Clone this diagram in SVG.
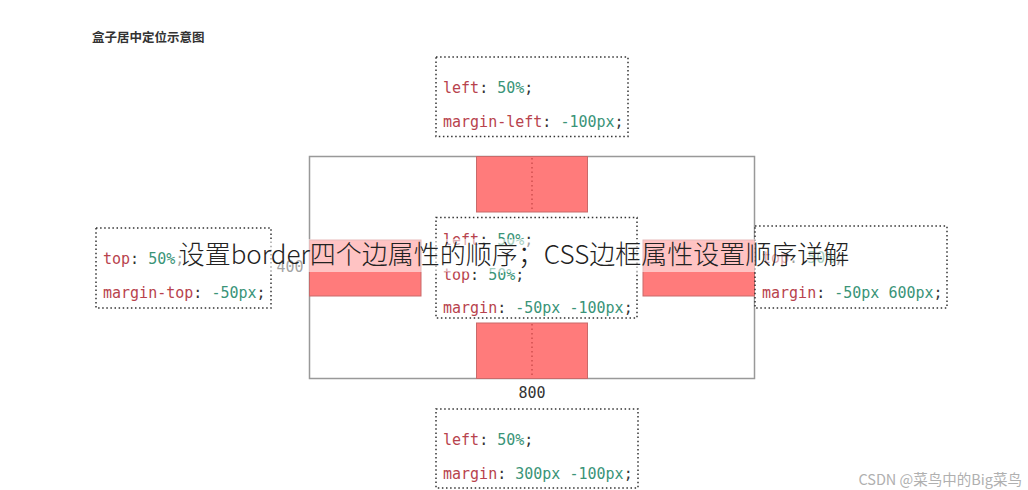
<svg xmlns="http://www.w3.org/2000/svg" width="1028" height="490" viewBox="0 0 1028 490">
<style>
.code{font-family:"DejaVu Sans Mono","Liberation Mono",monospace;font-size:15px;fill:#333}
.p{fill:#b8434d}
.v{fill:#3a9478}
.dot{fill:#fff;stroke:#333;stroke-width:1.5;stroke-dasharray:1.5 2.6}
.red{fill:#ff7b7b;stroke:#c96a6a;stroke-width:1}
.guide{stroke:#cf4f4f;stroke-width:1.5;stroke-dasharray:1.5 3}
</style>
<rect width="1028" height="490" fill="#fff"/>
<g id="title"><text x="92" y="42" font-family="'Noto Sans CJK SC',sans-serif" font-size="12.5" font-weight="bold" fill="#333">盒子居中定位示意图</text></g>
<g id="container"><rect x="309.5" y="156.5" width="445" height="222" fill="#fff" stroke="#999" stroke-width="1.5"/></g>
<g id="box-top"><rect class="red" x="476.5" y="156.5" width="111" height="55.5"/></g>
<g id="box-bottom"><rect class="red" x="476.5" y="323" width="111" height="55.5"/></g>
<g id="box-left"><rect class="red" x="309.5" y="240" width="111.5" height="56"/></g>
<g id="box-right"><rect class="red" x="643" y="240" width="111.5" height="56"/></g>
<g id="connectors">
<line class="guide" x1="532" y1="158" x2="532" y2="211"/>
<line class="guide" x1="532" y1="324" x2="532" y2="377"/>
</g>
<g id="code-top">
<rect class="dot" x="436" y="57" width="192" height="79.5"/>
<text class="code" x="443" y="93"><tspan class="p">left</tspan>: <tspan class="v">50%</tspan>;</text>
<text class="code" x="443" y="127"><tspan class="p">margin-left</tspan>: <tspan class="v">-100px</tspan>;</text>
</g>
<g id="code-center">
<rect class="dot" x="436" y="217.5" width="201" height="100.5"/>
<text class="code" x="443" y="245"><tspan class="p">left</tspan>: <tspan class="v">50%</tspan>;</text>
<text class="code" x="443" y="280"><tspan class="p">top</tspan>: <tspan class="v">50%</tspan>;</text>
<text class="code" x="443" y="313"><tspan class="p">margin</tspan>: <tspan class="v">-50px -100px</tspan>;</text>
</g>
<g id="code-left">
<rect class="dot" x="96" y="228" width="175" height="80"/>
<text class="code" x="103" y="264"><tspan class="p">top</tspan>: <tspan class="v">50%</tspan>;</text>
<text class="code" x="103" y="298"><tspan class="p">margin-top</tspan>: <tspan class="v">-50px</tspan>;</text>
</g>
<g id="code-right">
<rect class="dot" x="755" y="226" width="192" height="82"/>
<text class="code" x="762" y="263"><tspan class="p">top</tspan>: <tspan class="v">50%</tspan>;</text>
<text class="code" x="762" y="298"><tspan class="p">margin</tspan>: <tspan class="v">-50px 600px</tspan>;</text>
</g>
<g id="code-bottom">
<rect class="dot" x="436" y="409" width="202" height="79"/>
<text class="code" x="443" y="445"><tspan class="p">left</tspan>: <tspan class="v">50%</tspan>;</text>
<text class="code" x="443" y="479"><tspan class="p">margin</tspan>: <tspan class="v">300px -100px</tspan>;</text>
</g>
<g id="labels">
<text class="code" x="532" y="398" text-anchor="middle" fill="#111">800</text>
<text class="code" x="290" y="272" text-anchor="middle" fill="#111">400</text>
</g>
<g id="caption">
<rect x="176" y="239" width="676" height="33" fill="#fff" fill-opacity="0.55"/>
<text x="514" y="264" text-anchor="middle" font-family="'Noto Sans CJK SC','Noto Sans',sans-serif" font-size="26" font-weight="300" fill="#222">设置border四个边属性的顺序；CSS边框属性设置顺序详解</text>
</g>
<g id="watermark"><text x="1022" y="485" text-anchor="end" font-family="'Noto Sans CJK SC',sans-serif" font-size="14.5" fill="#b0b0b0">CSDN @菜鸟中的Big菜鸟</text></g>
</svg>
